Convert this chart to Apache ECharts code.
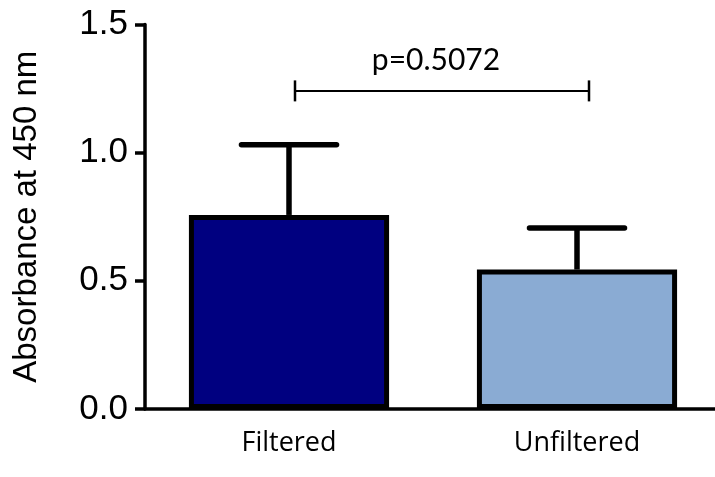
<!DOCTYPE html>
<html>
<head>
<meta charset="utf-8">
<script src="https://cdn.jsdelivr.net/npm/echarts@6/dist/echarts.min.js"></script>
<style>html,body{margin:0;padding:0;background:#fff}#c{width:715px;height:477px}</style>
</head>
<body>
<div id="c"></div>
<script>
const categories = ['Filtered', 'Unfiltered'];
const means = [0.757, 0.544];
const errors = [0.274, 0.162];
const barColors = ['#000080', '#8aabd3'];
const yTicks = [0, 0.5, 1.0, 1.5];
const pLabel = 'p=0.5072';
const bracketY = 1.241;

const chart = echarts.init(document.getElementById('c'), null, {renderer: 'canvas'});

const option = {
  animation: false,
  backgroundColor: '#ffffff',
  grid: {left: 145, top: 24.5, bottom: 68, width: 576, containLabel: false, outerBoundsMode: 'none'},
  xAxis: {
    type: 'category',
    data: categories,
    axisLine: {lineStyle: {color: '#000', width: 3.5}},
    axisTick: {alignWithLabel: true, length: 9, lineStyle: {color: '#000', width: 3}},
    axisLabel: {color: '#000', fontSize: 27, fontFamily: 'Open Sans', margin: 21}
  },
  yAxis: {
    type: 'value',
    min: yTicks[0],
    max: yTicks[yTicks.length - 1],
    interval: 0.5,
    name: 'Absorbance at 450 nm',
    nameLocation: 'middle',
    nameGap: 102,
    nameTextStyle: {color: '#000', fontSize: 33, fontFamily: 'Liberation Sans'},
    axisLine: {show: true, lineStyle: {color: '#000', width: 3.5}},
    axisTick: {show: true, length: 10, lineStyle: {color: '#000', width: 3.5}},
    axisLabel: {color: '#000', fontSize: 35, fontFamily: 'Liberation Sans', margin: 17,
      formatter: v => v.toFixed(1)},
    splitLine: {show: false}
  },
  series: [
    {
      type: 'bar',
      barWidth: '69.5%',
      data: means.map((v, i) => ({value: v, itemStyle: {color: barColors[i]}})),
      itemStyle: {borderColor: '#000', borderWidth: 5},
      z: 2
    },
    {
      type: 'custom',
      z: 3,
      data: means.map((v, i) => [i, v, v + errors[i]]),
      renderItem: function (params, api) {
        const x = api.value(0);
        const lo = api.coord([x, api.value(1)]);
        const hi = api.coord([x, api.value(2)]);
        const band = api.size([1, 0])[0];
        const half = band * 0.165;
        return {
          type: 'group',
          children: [
            {type: 'line', shape: {x1: lo[0], y1: lo[1], x2: hi[0], y2: hi[1]},
              style: {stroke: '#000', lineWidth: 5.5}},
            {type: 'line', shape: {x1: hi[0] - half, y1: hi[1], x2: hi[0] + half, y2: hi[1]},
              style: {stroke: '#000', lineWidth: 5.5, lineCap: 'round'}}
          ]
        };
      }
    },
    {
      type: 'custom',
      z: 3,
      data: [[0, 1, bracketY]],
      renderItem: function (params, api) {
        const a = api.coord([api.value(0), api.value(2)]);
        const b = api.coord([api.value(1), api.value(2)]);
        const x1 = a[0] + 6, x2 = b[0] + 12, y = a[1];
        return {
          type: 'group',
          children: [
            {type: 'line', shape: {x1: x1, y1: y, x2: x2, y2: y}, style: {stroke: '#000', lineWidth: 2}},
            {type: 'line', shape: {x1: x1, y1: y - 10.5, x2: x1, y2: y + 10.5}, style: {stroke: '#000', lineWidth: 2.5}},
            {type: 'line', shape: {x1: x2, y1: y - 10.5, x2: x2, y2: y + 10.5}, style: {stroke: '#000', lineWidth: 2.5}},
            {type: 'text', x: (x1 + x2) / 2 - 6, y: y - 31,
              style: {text: pLabel, fill: '#000', fontSize: 30, fontFamily: 'Lato', align: 'center', verticalAlign: 'middle'}}
          ]
        };
      }
    }
  ]
};
chart.setOption(option);
</script>
</body>
</html>
